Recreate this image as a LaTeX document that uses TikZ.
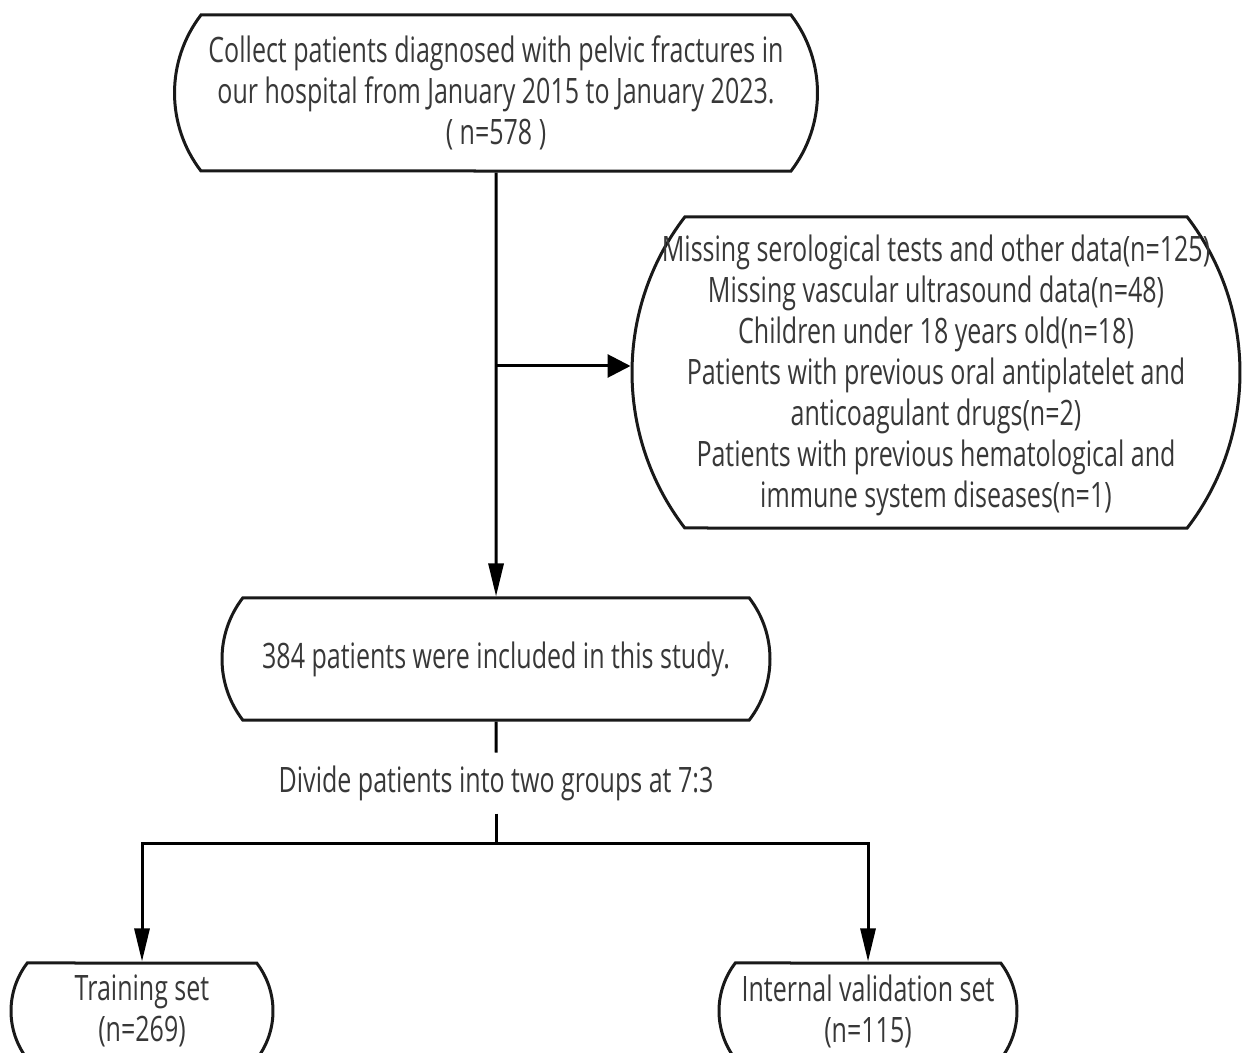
\documentclass[tikz,border=0pt]{standalone}
\usepackage{fontspec}
\setmainfont[FakeStretch=0.715]{Open Sans}
\usetikzlibrary{arrows.meta,shapes.misc}
\begin{document}
\begin{tikzpicture}[x=0.5pt, y=-0.5pt, line width=1.5pt,
  txt/.style={align=center, text=black!78, inner sep=0pt,
    font=\fontsize{17.5}{20.5}\selectfont},
  box/.style={txt, draw=black!90, rounded rectangle, rounded rectangle arc length=75},
  arr/.style={-{Triangle[length=16.5pt,width=7.5pt]}},
  harr/.style={-{Triangle[length=11.5pt,width=11.5pt]}}]
\clip (0,0) rectangle (1243,1053);
\node[box, minimum width=321.5pt, minimum height=78pt] (collect) at (496,93)
  {Collect patients diagnosed with pelvic fractures in\\
   our hospital from January 2015 to January 2023.\\ ( n=578 )};
\node[box, minimum width=304pt, minimum height=155.5pt] (excl) at (936,372.5) {};
\node[txt] (excllist) at (936,375.5)
  {Missing serological tests and other data(n=125)\\
   Missing vascular ultrasound data(n=48)\\
   Children under 18 years old(n=18)\\
   Patients with previous oral antiplatelet and\\
   anticoagulant drugs(n=2)\\
   Patients with previous hematological and\\
   immune system diseases(n=1)};
\node[box, minimum width=274pt, minimum height=61pt] (incl) at (496,659)
  {384 patients were included in this study.};
\node[txt, minimum height=29pt] (divide) at (496,783)
  {Divide patients into two groups at 7:3};
\node[box, minimum width=131pt, minimum height=48pt] (train) at (142,1011)
  {Training set\\(n=269)};
\node[box, minimum width=149pt, minimum height=48pt] (valid) at (868,1011)
  {Internal validation set\\(n=115)};
\coordinate (branch) at (496,366);
\coordinate (fork) at (496,843);
% connectors
\draw[arr] (collect) -- (incl);
\draw[harr] (branch) -- (branch -| excl.west);
\draw (incl) -- (divide);
\draw (divide) -- (fork);
\draw[arr] (fork) -| (train);
\draw[arr] (fork) -| (valid);
\end{tikzpicture}
\end{document}
